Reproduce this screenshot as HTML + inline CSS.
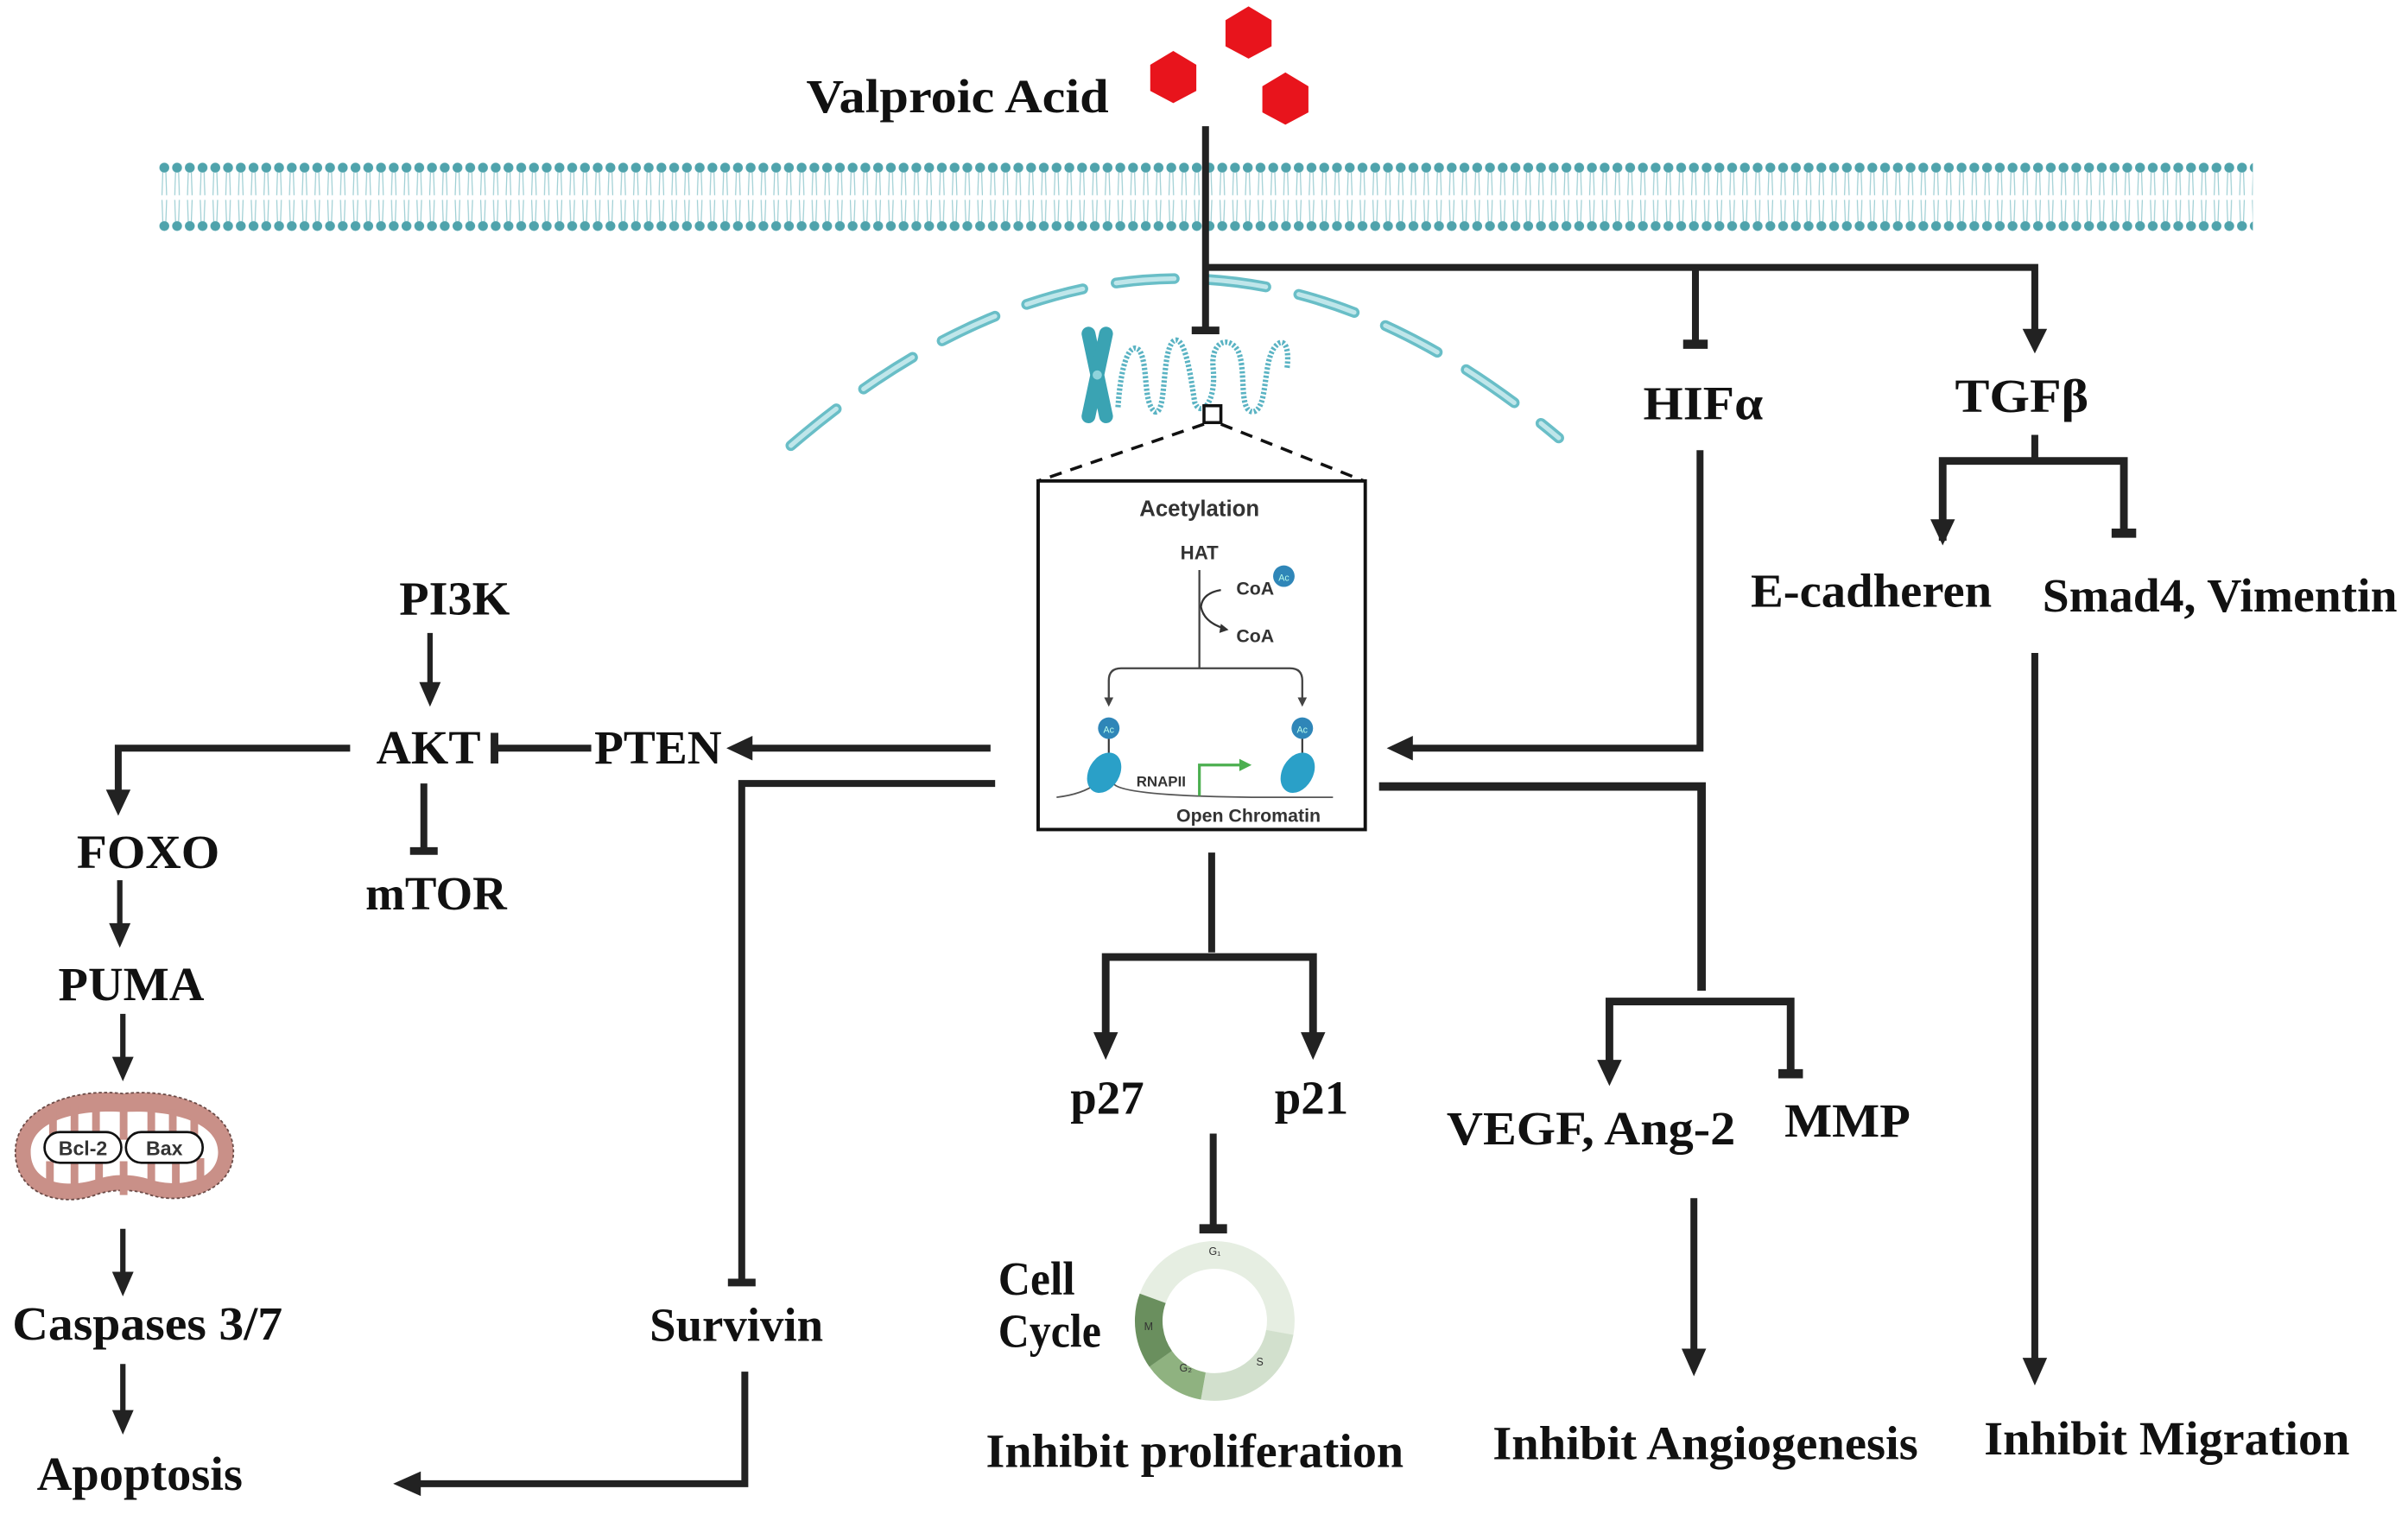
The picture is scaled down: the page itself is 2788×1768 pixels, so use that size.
<!DOCTYPE html>
<html><head><meta charset="utf-8"><style>
html,body{margin:0;padding:0;background:#fff}
svg{display:block}
.t{font-family:"Liberation Serif",serif;font-weight:bold;font-size:31px;fill:#111}
.s{font-family:"Liberation Sans",sans-serif;font-weight:bold;fill:#333}
</style></head><body>
<svg width="2788" height="1768" viewBox="0 0 1568 994" xmlns="http://www.w3.org/2000/svg">
<defs>
<pattern id="mem" x="103" y="0" width="8.3" height="994" patternUnits="userSpaceOnUse">
<circle cx="4" cy="109" r="3.2" fill="#4fa3ac"/>
<circle cx="4" cy="147" r="3.2" fill="#4fa3ac"/>
<path d="M3,112 L2.5,127 M5,112 L5.5,127 M2.5,130 L3,144 M5.5,130 L5,144" stroke="#9fcfd4" stroke-width="0.7" fill="none"/>
</pattern>
</defs>
<rect width="1568" height="994" fill="#fff"/>
<rect x="103" y="104" width="1364" height="48" fill="url(#mem)"/>
<g fill="#e8141c">
<polygon points="764,33 779,42 779,59 764,67 749,59 749,42"/>
<polygon points="813,4 828,13 828,30 813,38 798,30 798,13"/>
<polygon points="837,47 852,56 852,73 837,81 822,73 822,56"/>
</g>
<text class="t" x="525" y="73" textLength="197" lengthAdjust="spacingAndGlyphs">Valproic Acid</text>
<path d="M515,290 Q765,75 1015,285" fill="none" stroke="#4fb3bd" stroke-width="7" stroke-linecap="round" stroke-dasharray="38,22" opacity="0.85"/>
<path d="M515,290 Q765,75 1015,285" fill="none" stroke="#bfe6ea" stroke-width="3" stroke-linecap="round" stroke-dasharray="38,22"/>
<g stroke="#222" stroke-width="4.5" fill="none">
<path d="M785,82 V215"/>
<path d="M776,215 H794" stroke-width="5"/>
<path d="M785,174 H1325 V218"/>
<path d="M1104,174 V222"/>
<path d="M1096,224 H1112" stroke-width="6"/>
<path d="M1107,293 V487 H918"/>
<path d="M1325,283 V300"/>
<path d="M1265,352 V300 H1383 V345" stroke-width="5"/>
<path d="M1375,347 H1391" stroke-width="6"/>
<path d="M1325,425 V890"/>
<path d="M898,512 H1108 V645" stroke-width="5.5"/>
<path d="M1048,695 V652 H1166 V697" stroke-width="5"/>
<path d="M1158,699 H1174" stroke-width="6"/>
<path d="M1103,780 V885"/>
<path d="M789,555 V620"/>
<path d="M720,678 V623 H855 V678" stroke-width="5"/>
<path d="M790,738 V798"/>
<path d="M781,800 H799" stroke-width="6"/>
<path d="M645,487 H488"/>
<path d="M385,487 H324"/>
<path d="M322,477 V497" stroke-width="5"/>
<path d="M280,412 V448" stroke-width="3.5"/>
<path d="M228,487 H77 V518"/>
<path d="M276,510 V553"/>
<path d="M267,554 H285" stroke-width="5"/>
<path d="M78,573 V605" stroke-width="3.5"/>
<path d="M80,660 V692" stroke-width="3.5"/>
<path d="M80,800 V832" stroke-width="3.5"/>
<path d="M80,888 V922" stroke-width="3.5"/>
<path d="M648,510 H483 V833"/>
<path d="M474,835 H492" stroke-width="5"/>
<path d="M485,893 V966 H272"/>
</g>
<g fill="#222">
<polygon points="1317,214 1333,214 1325,230"/>
<polygon points="920,479 920,495 903,487"/>
<polygon points="1257,338 1273,338 1265,355"/>
<polygon points="1317,884 1333,884 1325,902"/>
<polygon points="1040,690 1056,690 1048,707"/>
<polygon points="1095,878 1111,878 1103,896"/>
<polygon points="712,672 728,672 720,690"/>
<polygon points="847,672 863,672 855,690"/>
<polygon points="490,479 490,495 473,487"/>
<polygon points="273,444 287,444 280,460"/>
<polygon points="69,514 85,514 77,531"/>
<polygon points="71,601 85,601 78,617"/>
<polygon points="73,688 87,688 80,704"/>
<polygon points="73,828 87,828 80,844"/>
<polygon points="73,918 87,918 80,934"/>
<polygon points="274,958 274,974 256,966"/>
</g>
<text class="t" x="1070" y="273" textLength="78" lengthAdjust="spacingAndGlyphs">HIFα</text>
<text class="t" x="1273" y="268" textLength="87" lengthAdjust="spacingAndGlyphs">TGFβ</text>
<text class="t" x="1140" y="395" textLength="157" lengthAdjust="spacingAndGlyphs">E-cadheren</text>
<text class="t" x="1330" y="398" textLength="231" lengthAdjust="spacingAndGlyphs">Smad4, Vimentin</text>
<text class="t" x="260" y="400" textLength="72" lengthAdjust="spacingAndGlyphs">PI3K</text>
<text class="t" x="245" y="497" textLength="68" lengthAdjust="spacingAndGlyphs">AKT</text>
<text class="t" x="387" y="497" textLength="83" lengthAdjust="spacingAndGlyphs">PTEN</text>
<text class="t" x="238" y="592" textLength="92" lengthAdjust="spacingAndGlyphs">mTOR</text>
<text class="t" x="50" y="565" textLength="93" lengthAdjust="spacingAndGlyphs">FOXO</text>
<text class="t" x="38" y="651" textLength="95" lengthAdjust="spacingAndGlyphs">PUMA</text>
<text class="t" x="8" y="872" textLength="176" lengthAdjust="spacingAndGlyphs">Caspases 3/7</text>
<text class="t" x="24" y="970" textLength="134" lengthAdjust="spacingAndGlyphs">Apoptosis</text>
<text class="t" x="423" y="873" textLength="113" lengthAdjust="spacingAndGlyphs">Survivin</text>
<text class="t" x="697" y="725" textLength="48" lengthAdjust="spacingAndGlyphs">p27</text>
<text class="t" x="830" y="725" textLength="48" lengthAdjust="spacingAndGlyphs">p21</text>
<text class="t" x="942" y="745" textLength="188" lengthAdjust="spacingAndGlyphs">VEGF, Ang-2</text>
<text class="t" x="1162" y="740" textLength="82" lengthAdjust="spacingAndGlyphs">MMP</text>
<text class="t" x="650" y="843" textLength="50" lengthAdjust="spacingAndGlyphs">Cell</text>
<text class="t" x="650" y="877" textLength="67" lengthAdjust="spacingAndGlyphs">Cycle</text>
<text class="t" x="642" y="955" textLength="272" lengthAdjust="spacingAndGlyphs">Inhibit proliferation</text>
<text class="t" x="972" y="950" textLength="277" lengthAdjust="spacingAndGlyphs">Inhibit Angiogenesis</text>
<text class="t" x="1292" y="947" textLength="238" lengthAdjust="spacingAndGlyphs">Inhibit Migration</text>
<!-- chromosome -->
<g fill="#3aa3b3">
<rect x="710" y="212" width="9" height="64" rx="4.5" transform="rotate(-12 714.5 244)"/>
<rect x="710" y="212" width="9" height="64" rx="4.5" transform="rotate(12 714.5 244)"/>
<circle cx="714.5" cy="244" r="3" fill="#8fd3dc"/>
</g>
<path d="M728,265 C730,235 736,222 742,228 C748,238 744,262 752,268 C760,270 756,230 764,222 C772,216 776,250 778,262 C782,272 792,262 790,240 C788,222 800,218 806,228 C812,240 806,268 816,268 C826,266 822,236 830,226 C836,218 840,226 838,240" fill="none" stroke="#5ab3c3" stroke-width="3.5" stroke-dasharray="1.5,1.2"/>
<rect x="784" y="264" width="11" height="11" fill="#fff" stroke="#111" stroke-width="2"/>
<path d="M784,276 L676,313 M795,276 L888,313" stroke="#111" stroke-width="2" stroke-dasharray="8,6"/>
<rect x="676" y="313" width="213" height="227" fill="#fff" stroke="#111" stroke-width="2.2"/>
<text class="s" x="781" y="336" font-size="14.5" text-anchor="middle">Acetylation</text>
<text class="s" x="781" y="364" font-size="12.5" text-anchor="middle" fill="#111">HAT</text>
<path d="M781,371 V435 M722,456 V443 Q722,435 730,435 H840 Q848,435 848,443 V456" stroke="#444" stroke-width="1.3" fill="none"/>
<polygon points="719,454 725,454 722,460" fill="#444"/><polygon points="845,454 851,454 848,460" fill="#444"/>
<path d="M795,384 Q783,386 782,395 Q784,405 797,409" stroke="#333" stroke-width="1.3" fill="none"/>
<polygon points="795,406 800,410 794,412" fill="#333"/>
<text class="s" x="805" y="387" font-size="12" fill="#111">CoA</text>
<text class="s" x="805" y="418" font-size="12" fill="#111">CoA</text>
<circle cx="836" cy="375" r="7" fill="#2f86b8"/>
<text x="836" y="378" font-size="6" fill="#bfe" text-anchor="middle" font-family="Liberation Sans">Ac</text>
<path d="M688,519 Q705,517 714,510 M725,510 Q730,518 815,519 L868,519" stroke="#555" stroke-width="1" fill="none"/>
<circle cx="722" cy="474" r="7" fill="#2f86b8"/><text x="722" y="477" font-size="6" fill="#bfe" text-anchor="middle" font-family="Liberation Sans">Ac</text>
<circle cx="848" cy="474" r="7" fill="#2f86b8"/><text x="848" y="477" font-size="6" fill="#bfe" text-anchor="middle" font-family="Liberation Sans">Ac</text>
<path d="M722,481 V492 M848,481 V492" stroke="#333" stroke-width="1.2"/>
<ellipse cx="719" cy="503" rx="10" ry="14" fill="#2aa0c8" transform="rotate(30 719 503)"/>
<ellipse cx="845" cy="503" rx="10" ry="14" fill="#2aa0c8" transform="rotate(30 845 503)"/>
<path d="M781,518 V498 H808" stroke="#4caf50" stroke-width="1.8" fill="none"/>
<polygon points="807,494 815,498 807,502" fill="#4caf50"/>
<text class="s" x="740" y="512" font-size="9.5" fill="#222">RNAPII</text>
<text class="s" x="766" y="535" font-size="12" fill="#333">Open Chromatin</text>
<g fill="none" stroke-width="18">
<circle cx="791" cy="860" r="43" stroke="#e6eee2" stroke-dasharray="127.6 300" transform="rotate(200 791 860)"/>
<circle cx="791" cy="860" r="43" stroke="#d2e0cd" stroke-dasharray="67.5 300" transform="rotate(10 791 860)"/>
<circle cx="791" cy="860" r="43" stroke="#8fb280" stroke-dasharray="33.8 300" transform="rotate(100 791 860)"/>
<circle cx="791" cy="860" r="43" stroke="#6a8f5e" stroke-dasharray="41.3 300" transform="rotate(145 791 860)"/>
</g>
<text x="791" y="817" font-size="7" text-anchor="middle" font-family="Liberation Sans" fill="#333">G₁</text>
<text x="818" y="889" font-size="7" font-family="Liberation Sans" fill="#333">S</text>
<text x="768" y="893" font-size="7" font-family="Liberation Sans" fill="#333">G₂</text>
<text x="745" y="866" font-size="7" font-family="Liberation Sans" fill="#333">M</text>
<path d="M10,750 C10,720 50,708 80,712 C115,708 152,722 152,750 C152,775 120,785 98,778 C88,774 72,774 62,778 C40,786 10,778 10,750 Z" fill="#c99088" stroke="#6a4a46" stroke-width="1" stroke-dasharray="2,1.5"/>
<path d="M20,750 C20,728 55,722 80,724 C110,722 142,730 142,750 C142,768 118,774 98,768 C86,764 74,764 62,768 C42,774 20,770 20,750 Z" fill="#fff"/>
<g fill="#c99088">
<rect x="32" y="722" width="5" height="20"/><rect x="46" y="720" width="5" height="22"/><rect x="60" y="720" width="5" height="22"/><rect x="78" y="718" width="5" height="24"/><rect x="96" y="720" width="5" height="22"/><rect x="110" y="722" width="5" height="20"/><rect x="124" y="726" width="5" height="16"/>
<rect x="30" y="756" width="5" height="18"/><rect x="46" y="756" width="5" height="20"/><rect x="62" y="756" width="5" height="20"/><rect x="78" y="756" width="5" height="22"/><rect x="96" y="756" width="5" height="20"/><rect x="112" y="756" width="5" height="18"/><rect x="128" y="754" width="5" height="14"/>
</g>
<rect x="29" y="737" width="50" height="20" rx="10" fill="#fff" stroke="#111" stroke-width="1.5"/>
<rect x="82" y="737" width="50" height="20" rx="10" fill="#fff" stroke="#111" stroke-width="1.5"/>
<text class="s" x="54" y="752" font-size="13" text-anchor="middle" fill="#111">Bcl-2</text>
<text class="s" x="107" y="752" font-size="13" text-anchor="middle" fill="#111">Bax</text>
</svg>
</body></html>
